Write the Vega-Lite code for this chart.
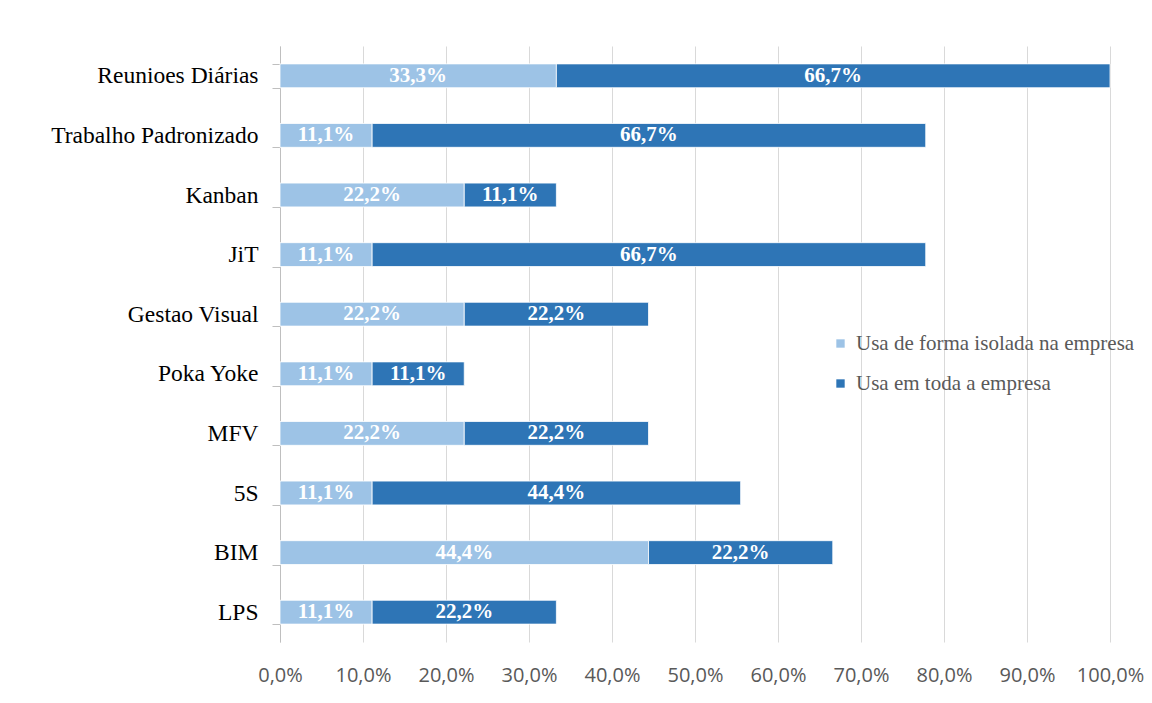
{
  "$schema": "https://vega.github.io/schema/vega-lite/v6.json",
  "width": 830,
  "height": 596,
  "autosize": "none",
  "padding": {"left": 280, "top": 46, "right": 42, "bottom": 61},
  "background": "white",
  "config": {
    "view": {"stroke": null},
    "locale": {"number": {"decimal": ",", "thousands": ".", "grouping": [3], "currency": ["R$", ""]}}
  },
  "data": {
    "values": [
      {"tecnica": "Reunioes Diárias", "tipo": "Usa de forma isolada na empresa", "ordem": 1, "valor": 0.333},
      {"tecnica": "Reunioes Diárias", "tipo": "Usa em toda a empresa", "ordem": 2, "valor": 0.667},
      {"tecnica": "Trabalho Padronizado", "tipo": "Usa de forma isolada na empresa", "ordem": 1, "valor": 0.111},
      {"tecnica": "Trabalho Padronizado", "tipo": "Usa em toda a empresa", "ordem": 2, "valor": 0.667},
      {"tecnica": "Kanban", "tipo": "Usa de forma isolada na empresa", "ordem": 1, "valor": 0.222},
      {"tecnica": "Kanban", "tipo": "Usa em toda a empresa", "ordem": 2, "valor": 0.111},
      {"tecnica": "JiT", "tipo": "Usa de forma isolada na empresa", "ordem": 1, "valor": 0.111},
      {"tecnica": "JiT", "tipo": "Usa em toda a empresa", "ordem": 2, "valor": 0.667},
      {"tecnica": "Gestao Visual", "tipo": "Usa de forma isolada na empresa", "ordem": 1, "valor": 0.222},
      {"tecnica": "Gestao Visual", "tipo": "Usa em toda a empresa", "ordem": 2, "valor": 0.222},
      {"tecnica": "Poka Yoke", "tipo": "Usa de forma isolada na empresa", "ordem": 1, "valor": 0.111},
      {"tecnica": "Poka Yoke", "tipo": "Usa em toda a empresa", "ordem": 2, "valor": 0.111},
      {"tecnica": "MFV", "tipo": "Usa de forma isolada na empresa", "ordem": 1, "valor": 0.222},
      {"tecnica": "MFV", "tipo": "Usa em toda a empresa", "ordem": 2, "valor": 0.222},
      {"tecnica": "5S", "tipo": "Usa de forma isolada na empresa", "ordem": 1, "valor": 0.111},
      {"tecnica": "5S", "tipo": "Usa em toda a empresa", "ordem": 2, "valor": 0.444},
      {"tecnica": "BIM", "tipo": "Usa de forma isolada na empresa", "ordem": 1, "valor": 0.444},
      {"tecnica": "BIM", "tipo": "Usa em toda a empresa", "ordem": 2, "valor": 0.222},
      {"tecnica": "LPS", "tipo": "Usa de forma isolada na empresa", "ordem": 1, "valor": 0.111},
      {"tecnica": "LPS", "tipo": "Usa em toda a empresa", "ordem": 2, "valor": 0.222}
    ]
  },
  "transform": [
    {"stack": "valor", "groupby": ["tecnica"], "sort": [{"field": "ordem"}], "as": ["v0", "v1"]},
    {"calculate": "(datum.v0 + datum.v1) / 2", "as": "meio"}
  ],
  "encoding": {
    "y": {
      "field": "tecnica",
      "type": "nominal",
      "sort": ["Reunioes Diárias", "Trabalho Padronizado", "Kanban", "JiT", "Gestao Visual", "Poka Yoke", "MFV", "5S", "BIM", "LPS"],
      "scale": {"paddingInner": 0.6, "paddingOuter": 0.3},
      "axis": {
        "title": null,
        "tickBand": "extent",
        "tickSize": 8,
        "tickColor": "#bfbfbf",
        "domainColor": "#bfbfbf",
        "labelFont": "Liberation Serif",
        "labelFontSize": 23.5,
        "labelColor": "#000000",
        "labelPadding": 14,
        "labelLimit": 400
      }
    }
  },
  "layer": [
    {
      "mark": {"type": "bar", "stroke": "white", "strokeWidth": 0.8},
      "encoding": {
        "x": {
          "field": "v0",
          "type": "quantitative",
          "scale": {"domain": [0, 1], "nice": false},
          "axis": {
            "title": null,
            "format": ".1%",
            "values": [0, 0.1, 0.2, 0.3, 0.4, 0.5, 0.6, 0.7, 0.8, 0.9, 1.0],
            "labelOverlap": false,
            "labelFlush": false,
            "grid": true,
            "gridColor": "#d9d9d9",
            "gridWidth": 1,
            "domain": false,
            "ticks": false,
            "labelFont": "Open Sans",
            "labelFontSize": 20,
            "labelColor": "#595959",
            "labelPadding": 23
          }
        },
        "x2": {"field": "v1"},
        "color": {
          "field": "tipo",
          "type": "nominal",
          "scale": {
            "domain": ["Usa de forma isolada na empresa", "Usa em toda a empresa"],
            "range": ["#9dc3e6", "#2e75b6"]
          },
          "legend": {
            "title": null,
            "orient": "none",
            "legendX": 550,
            "legendY": 287,
            "padding": 0,
            "symbolType": "square",
            "symbolSize": 70,
            "symbolStrokeWidth": 0,
            "labelFont": "Liberation Serif",
            "labelFontSize": 21,
            "labelColor": "#595959",
            "labelOffset": 5,
            "rowPadding": 18,
            "labelLimit": 400
          }
        }
      }
    },
    {
      "mark": {"type": "text", "font": "Liberation Serif", "fontSize": 21, "fontWeight": "bold", "color": "white", "baseline": "middle", "align": "center"},
      "encoding": {
        "x": {"field": "meio", "type": "quantitative"},
        "text": {"field": "valor", "type": "quantitative", "format": ".1%"}
      }
    }
  ]
}
